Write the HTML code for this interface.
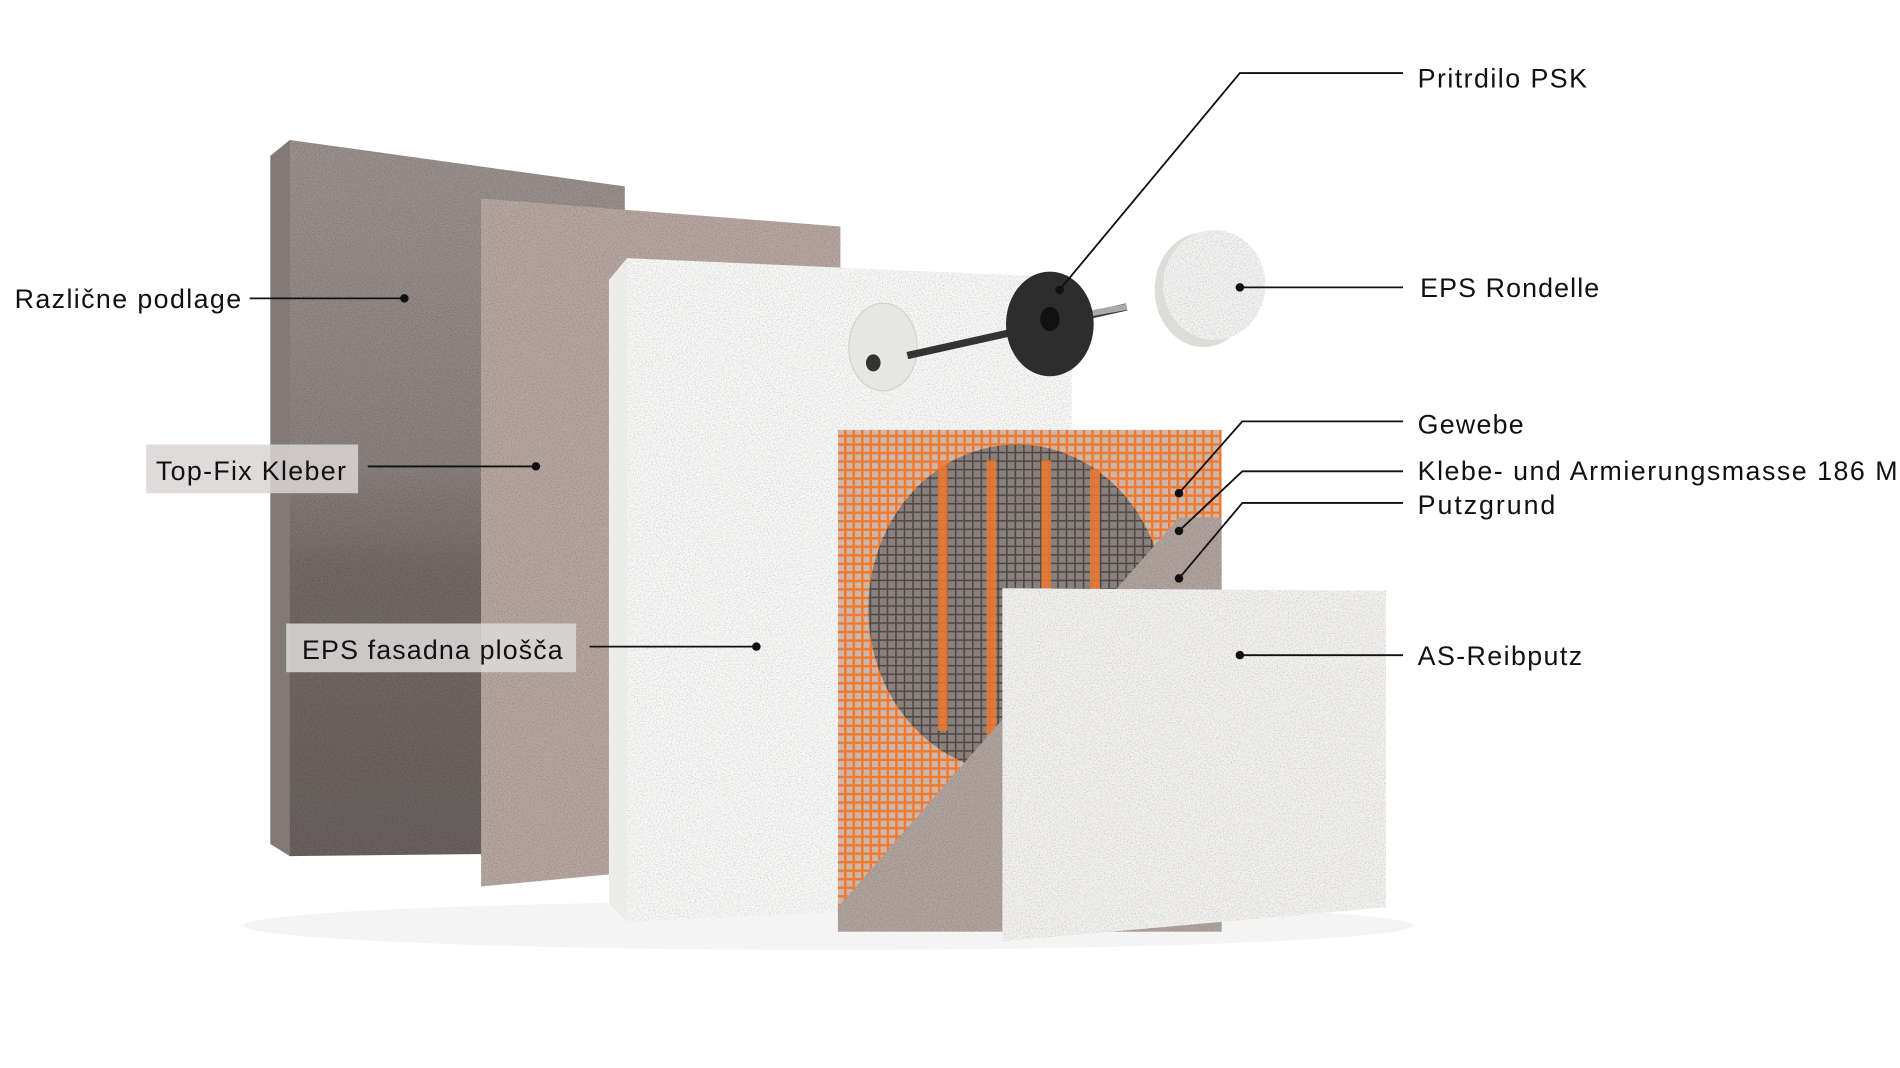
<!DOCTYPE html>
<html><head><meta charset="utf-8"><style>
html,body{margin:0;padding:0;background:#fff;width:1900px;height:1068px;overflow:hidden}
svg{display:block}
text{font-family:"Liberation Sans",sans-serif;font-size:22px;fill:#111}
</style></head><body>
<svg width="1900" height="1068" viewBox="0 0 1560 877" preserveAspectRatio="none" xmlns="http://www.w3.org/2000/svg">
<defs>
<filter id="noise" x="0" y="0" width="100%" height="100%">
<feTurbulence type="fractalNoise" baseFrequency="0.9" numOctaves="2" seed="3" result="n"/>
<feColorMatrix in="n" type="matrix" values="0 0 0 0 0  0 0 0 0 0  0 0 0 0 0  0 0 0 -0.8 0.45" result="a"/>
<feComposite in="a" in2="SourceGraphic" operator="in" result="b"/>
<feMerge><feMergeNode in="SourceGraphic"/><feMergeNode in="b"/></feMerge>
</filter>
<pattern id="mesh" width="7" height="7" patternUnits="userSpaceOnUse">
<rect width="7" height="7" fill="#cdb6aa"/>
<rect width="7" height="2" fill="#f07a30"/><rect width="2" height="7" fill="#f07a30"/>
</pattern>
<pattern id="meshd" width="7" height="7" patternUnits="userSpaceOnUse">
<rect width="7" height="7" fill="#8a807b"/>
<rect width="7" height="1.3" fill="#4e4846"/><rect width="1.3" height="7" fill="#4e4846"/>
</pattern>
<linearGradient id="conc" x1="0" y1="0" x2="0" y2="1">
<stop offset="0" stop-color="#9a908d"/><stop offset="0.45" stop-color="#8a807d"/><stop offset="0.6" stop-color="#726966"/><stop offset="1" stop-color="#6a615f"/>
</linearGradient>
</defs>
<ellipse cx="680" cy="760" rx="480" ry="20" fill="#f5f4f4"/>
<!-- concrete -->
<polygon points="222,128 238,115 513,153 513,700 238,703 222,693" fill="url(#conc)" filter="url(#noise)"/>
<polygon points="222,128 238,115 238,703 222,693" fill="#837a77"/>
<!-- top-fix -->
<polygon points="395,163 690,186 690,700 395,728" fill="#b5a69f" filter="url(#noise)"/>
<!-- EPS -->
<polygon points="500,230 515,212 880,228 880,740 515,757 500,742" fill="#f8f8f7" filter="url(#noise)"/>
<polygon points="500,230 515,212 515,757 500,742" fill="#ececeb"/>
<ellipse cx="725" cy="285" rx="28" ry="36" fill="#e6e6e3" stroke="#d2d2cf"/>
<ellipse cx="717" cy="298" rx="6" ry="7" fill="#333"/>
<line x1="745" y1="292" x2="925" y2="252" stroke="#333" stroke-width="6"/>
<line x1="870" y1="262" x2="925" y2="252" stroke="#aaa" stroke-width="5"/>
<ellipse cx="862" cy="266" rx="36" ry="43" fill="#2d2d2d"/>
<ellipse cx="862" cy="262" rx="8" ry="10" fill="#111"/>
<!-- rondelle -->
<ellipse cx="988" cy="238" rx="40" ry="47" fill="#dcdcda"/>
<ellipse cx="997" cy="234" rx="42" ry="45" fill="#f3f3f2" filter="url(#noise)"/>
<!-- mesh panel -->
<rect x="688" y="353" width="315" height="412" fill="url(#mesh)"/>
<ellipse cx="835" cy="500" rx="122" ry="135" fill="url(#meshd)"/>
<g fill="#f07a30" opacity="0.85">
<rect x="770" y="380" width="8" height="220"/><rect x="810" y="378" width="8" height="230"/>
<rect x="855" y="378" width="8" height="230"/><rect x="895" y="385" width="8" height="200"/>
</g>
<polygon points="688,745 968,425 1003,425 1003,765 688,765" fill="#b0a39d" filter="url(#noise)"/>
<!-- AS panel -->
<polygon points="823,483 1138,485 1138,745 823,773" fill="#f3f2f0" filter="url(#noise)"/>
<rect x="120" y="365" width="174" height="40" fill="#d9d5d4" opacity="0.85"/>
<rect x="235" y="512" width="238" height="40" fill="#dcdad9" opacity="0.85"/>
<g stroke="#111" stroke-width="1.5" fill="none">
<polyline points="1152,60 1018,60 870,238"/>
<line x1="1018" y1="236" x2="1152" y2="236"/>
<line x1="205" y1="245" x2="332" y2="245"/>
<line x1="302" y1="383" x2="440" y2="383"/>
<line x1="484" y1="531" x2="621" y2="531"/>
<polyline points="1152,346 1020,346 968,405"/>
<polyline points="1152,387 1020,387 968,436"/>
<polyline points="1152,413 1020,413 968,475"/>
<line x1="1018" y1="538" x2="1152" y2="538"/>
</g>
<g fill="#111">
<circle cx="870" cy="238" r="3.5"/><circle cx="1018" cy="236" r="3.5"/>
<circle cx="332" cy="245" r="3.5"/><circle cx="440" cy="383" r="3.5"/>
<circle cx="621" cy="531" r="3.5"/><circle cx="968" cy="405" r="3.5"/>
<circle cx="968" cy="436" r="3.5"/><circle cx="968" cy="475" r="3.5"/>
<circle cx="1018" cy="538" r="3.5"/>
</g>
<text x="1164" y="72" textLength="139">Pritrdilo PSK</text>
<text x="1166" y="244" textLength="147">EPS Rondelle</text>
<text x="12" y="253" textLength="186">Različne podlage</text>
<text x="128" y="394" textLength="156">Top-Fix Kleber</text>
<text x="248" y="541" textLength="214">EPS fasadna plošča</text>
<text x="1164" y="356" textLength="87">Gewebe</text>
<text x="1164" y="394" textLength="394">Klebe- und Armierungsmasse 186 M</text>
<text x="1164" y="422" textLength="113">Putzgrund</text>
<text x="1164" y="546" textLength="135">AS-Reibputz</text>
</svg>
</body></html>
